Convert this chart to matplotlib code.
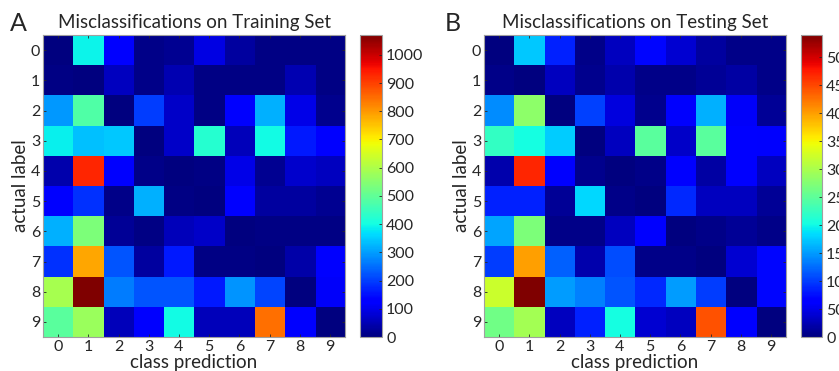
import matplotlib.pyplot as plt
import numpy as np

plt.rcParams['font.family'] = ['Lato', 'DejaVu Sans']
plt.rcParams['text.color'] = '#262626'
plt.rcParams['axes.labelcolor'] = '#262626'
plt.rcParams['xtick.color'] = '#262626'
plt.rcParams['ytick.color'] = '#262626'

classes = list(range(10))

# rows: actual label, columns: predicted class
train_counts = np.array([
    [0, 390, 130, 10, 20, 95, 30, 5, 5, 5],
    [5, 0, 60, 10, 50, 5, 5, 5, 50, 5],
    [295, 480, 0, 200, 70, 8, 130, 320, 100, 15],
    [385, 335, 345, 0, 70, 425, 55, 400, 160, 125],
    [45, 930, 130, 10, 0, 5, 100, 20, 75, 60],
    [130, 185, 10, 320, 5, 0, 130, 30, 30, 20],
    [320, 535, 25, 8, 55, 70, 0, 5, 5, 5],
    [185, 785, 225, 30, 160, 5, 5, 0, 40, 130],
    [590, 1070, 265, 225, 225, 160, 290, 205, 0, 115],
    [490, 575, 55, 130, 400, 55, 55, 845, 130, 0],
])

test_counts = np.array([
    [0, 175, 85, 5, 30, 70, 38, 15, 5, 5],
    [5, 0, 30, 8, 22, 5, 5, 12, 17, 5],
    [142, 282, 0, 103, 45, 8, 60, 162, 58, 12],
    [222, 203, 176, 0, 30, 248, 35, 248, 68, 60],
    [22, 470, 65, 8, 0, 5, 65, 18, 67, 30],
    [85, 85, 12, 182, 5, 0, 90, 30, 30, 12],
    [155, 270, 5, 5, 30, 65, 0, 5, 12, 5],
    [100, 400, 120, 22, 108, 5, 5, 0, 38, 70],
    [322, 540, 150, 135, 113, 90, 150, 100, 0, 70],
    [262, 297, 30, 85, 203, 38, 30, 443, 65, 0],
])

train_ticks = np.arange(0, 1001, 100)
test_ticks = np.arange(0, 501, 50)

fig = plt.figure(figsize=(8.39, 3.71), dpi=100)

panels = [
    ('A', 'Misclassifications on Training Set', train_counts, train_ticks,
     [0.0513, 0.0916, 0.36, 0.814], [0.429, 0.0916, 0.0262, 0.814], 0.012),
    ('B', 'Misclassifications on Testing Set', test_counts, test_ticks,
     [0.5769, 0.0916, 0.36, 0.814], [0.9547, 0.0916, 0.025, 0.814], 0.530),
]

for letter, title, counts, cticks, ax_box, cb_box, letter_x in panels:
    ax = fig.add_axes(ax_box)
    im = ax.imshow(counts, cmap='jet', vmin=0, vmax=counts.max(),
                   interpolation='nearest', aspect='auto')
    ax.set_xticks(classes)
    ax.set_yticks(classes)
    ax.tick_params(direction='in', length=2.5, width=0.6, labelsize=11.5,
                   top=True, right=True, pad=2)
    for s in ax.spines.values():
        s.set_color('#a0a0a0')
        s.set_linewidth(0.8)
    ax.set_title(title, fontsize=13.5, pad=5)
    ax.set_xlabel('class prediction', fontsize=13.5, labelpad=0)
    ax.set_ylabel('actual label', fontsize=13.5, labelpad=1)
    fig.text(letter_x, 1 - 12 / 371, letter, fontsize=18, va='top', ha='left')

    cax = fig.add_axes(cb_box)
    cb = fig.colorbar(im, cax=cax, ticks=cticks)
    cb.outline.set_edgecolor('#a0a0a0')
    cb.outline.set_linewidth(0.8)
    cax.tick_params(direction='in', length=2.5, width=0.6, labelsize=11.5, pad=3)

plt.savefig('out.png', dpi=100)
